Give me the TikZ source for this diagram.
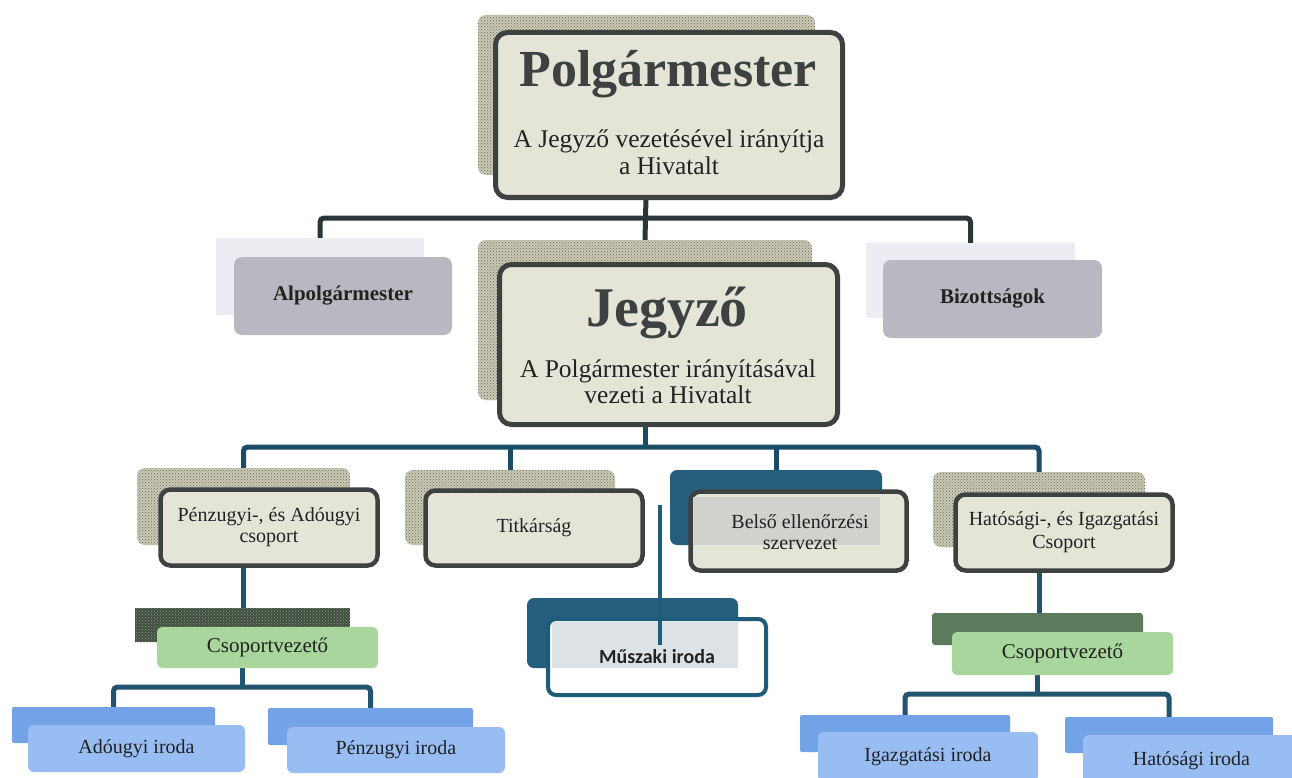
\documentclass[tikz,border=0pt]{standalone}
\usepackage{fontspec}
\setmainfont{Liberation Serif}
\newfontfamily\calfont{Carlito}
\usetikzlibrary{patterns}
\pgfdeclarelayer{back}
\pgfdeclarelayer{bg}
\pgfsetlayers{back,bg,main}
\newcommand\myfs[2]{\fontsize{#1}{#2}\selectfont}
\definecolor{beigec}{HTML}{E4E5D7}
\definecolor{bordc}{HTML}{3D4141}
\definecolor{texbase}{HTML}{CACAB4}
\definecolor{texdot}{HTML}{6A6A5E}
\definecolor{greyc}{HTML}{B8B9C0}
\definecolor{lightsh}{HTML}{ECECF3}
\definecolor{dbluec}{HTML}{265F7D}
\definecolor{musbord}{HTML}{1F5C7A}
\definecolor{musin}{HTML}{DDE2E6}
\definecolor{belin}{HTML}{D0D2CE}
\definecolor{gshA}{HTML}{434E42}
\definecolor{gdot}{HTML}{86A47E}
\definecolor{gshB}{HTML}{5C7B5C}
\definecolor{greenc}{HTML}{A9D69C}
\definecolor{bluesh}{HTML}{74A2E6}
\definecolor{bluec}{HTML}{98BDF3}
\definecolor{txtc}{HTML}{222222}
\definecolor{topc}{HTML}{2B3538}
\definecolor{midc}{HTML}{1A4C68}
\definecolor{lowc}{HTML}{22536F}
\tikzset{
  box/.style={rectangle, inner sep=0pt, text=txtc, align=center},
  texsh/.style={box, rounded corners=8pt, fill=texbase,
     postaction={pattern=crosshatch dots, pattern color=texdot}},
  mainbox/.style={box, draw=bordc, line width=5pt, fill=beigec, rounded corners=12pt},
  smallmain/.style={box, draw=bordc, line width=4.5pt, fill=beigec, rounded corners=10pt},
  greybox/.style={box, fill=greyc, rounded corners=8pt},
  greysh/.style={box, fill=lightsh},
  dblsh/.style={box, fill=dbluec, rounded corners=7pt},
  musbox/.style={box, draw=musbord, line width=4pt, fill=white, rounded corners=8pt},
  gshadeA/.style={box, fill=gshA, postaction={pattern=crosshatch dots, pattern color=gdot}},
  gshadeB/.style={box, fill=gshB, rounded corners=3pt},
  greenbox/.style={box, fill=greenc, rounded corners=5pt},
  bluesh/.style={box, fill=bluesh, rounded corners=2pt},
  bluebox/.style={box, fill=bluec, rounded corners=6pt},
  conn/.style={line width=5pt, rounded corners=4pt},
  sz/.style={font=\myfs{20}{21}},
}
\begin{document}
\begin{tikzpicture}[x=1pt,y=-1pt]
\useasboundingbox (0,0) rectangle (1292,778);
\clip (0,0) rectangle (1292,778);
\begin{pgfonlayer}{back}
\fill[white] (0,0) rectangle (1292,778);
\end{pgfonlayer}
\coordinate (bus1) at (0,218);
\coordinate (bus2) at (0,447);
\coordinate (bus3) at (0,687);
\coordinate (bus4) at (0,694);
% Polgarmester
\node[texsh, minimum width=337pt, minimum height=160pt] (polgS) at (646.5,95) {};
\node[mainbox, minimum width=347pt, minimum height=165pt] (polg) at (669,115) {};
\node[anchor=base, text=bordc, font=\bfseries\myfs{52}{54}] (polgT) at (668,87) {Polgármester};
\node[anchor=base, text=txtc, font=\myfs{25.5}{27}] (polgD1) at (669,148) {A Jegyző vezetésével irányítja};
\node[anchor=base, text=txtc, font=\myfs{25.5}{27}] (polgD2) at (669,175) {a Hivatalt};
% second row
\node[greysh, minimum width=208pt, minimum height=77pt] (alpS) at (320,276.5) {};
\node[greybox, minimum width=218pt, minimum height=78pt, font=\bfseries\myfs{21}{22}] (alp) at (343,296) {Alpolgármester};
\node[greysh, minimum width=209pt, minimum height=75pt] (bizS) at (970.5,280.5) {};
\node[greybox, minimum width=219pt, minimum height=78pt, font=\bfseries\myfs{21}{22}] (biz) at (992.5,299) {Bizottságok};
\node[texsh, minimum width=334pt, minimum height=160pt] (jegS) at (645,320) {};
\node[mainbox, minimum width=338pt, minimum height=160pt] (jeg) at (668.5,344.5) {};
\node[anchor=base, text=bordc, font=\bfseries\myfs{56}{58}] (jegT) at (667,326) {Jegyző};
\node[anchor=base, text=txtc, font=\myfs{25.5}{27}] (jegD1) at (668,377) {A Polgármester irányításával};
\node[anchor=base, text=txtc, font=\myfs{25.5}{27}] (jegD2) at (668,403) {vezeti a Hivatalt};
% third row
\node[texsh, minimum width=213pt, minimum height=77pt] (penzS) at (243.5,506.5) {};
\node[smallmain, sz, minimum width=217pt, minimum height=76pt] (penz) at (269,527.5) {Pénzugyi-, és Adóugyi\\csoport};
\node[texsh, minimum width=210pt, minimum height=75pt] (titS) at (510,507.5) {};
\node[smallmain, sz, minimum width=217pt, minimum height=75pt] (tit) at (534,528) {Titkárság};
\node[dblsh, minimum width=212pt, minimum height=75pt] (belS) at (776,507.5) {};
\node[smallmain, minimum width=216pt, minimum height=79pt] (bel) at (798.5,531) {};
\node[box, fill=belin, minimum width=187pt, minimum height=48pt] (belIn) at (786.5,521) {};
\node[box, sz] (belT) at (800,532) {Belső ellenőrzési\\szervezet};
\node[texsh, minimum width=212pt, minimum height=75pt] (hatS) at (1039,509.5) {};
\node[smallmain, font=\myfs{20}{23}, minimum width=217pt, minimum height=76pt] (hat) at (1064,532.5) {Hatósági-, és Igazgatási\\Csoport};
% Muszaki
\node[dblsh, minimum width=211pt, minimum height=70pt] (musS) at (632.5,633) {};
\node[musbox, minimum width=218pt, minimum height=76pt] (mus) at (657,657) {};
\node[box, fill=musin, minimum width=186pt, minimum height=46pt] (musIn) at (645,645) {};
\coordinate (musTop) at (660,505);
\coordinate (musEnd) at (660,645);
\draw[line width=4pt, musbord] (musTop) -- (musEnd);
\node[box, font=\calfont\bfseries\myfs{20}{22}] (musT) at (657,657) {Műszaki iroda};
% Csoportvezetok
\node[gshadeA, minimum width=215pt, minimum height=34pt] (csv1S) at (242.5,625) {};
\node[greenbox, font=\myfs{21}{22}, minimum width=221pt, minimum height=41pt] (csv1) at (267.5,647.5) {Csoportvezető};
\node[gshadeB, minimum width=211pt, minimum height=32pt] (csv2S) at (1037.5,629) {};
\node[greenbox, font=\myfs{21}{22}, minimum width=221pt, minimum height=43pt] (csv2) at (1062.5,653.5) {Csoportvezető};
% bottom row
\node[bluesh, minimum width=203pt, minimum height=36pt] (adoS) at (113.5,725) {};
\node[bluebox, sz, minimum width=217pt, minimum height=47pt] (ado) at (136.5,748.5) {Adóugyi iroda};
\node[bluesh, minimum width=205pt, minimum height=37pt] (pzS) at (370.5,726.5) {};
\node[bluebox, sz, minimum width=218pt, minimum height=46pt] (pz) at (396,750) {Pénzugyi iroda};
\node[bluesh, minimum width=210pt, minimum height=37pt] (igS) at (905,733.5) {};
\node[bluebox, sz, minimum width=220pt, minimum height=50pt] (ig) at (928,757) {Igazgatási iroda};
\node[bluesh, minimum width=208pt, minimum height=36pt] (hiS) at (1169,735) {};
\node[bluebox, sz, minimum width=217pt, minimum height=52pt] (hi) at (1191.5,761) {Hatósági iroda};
% connectors
\begin{pgfonlayer}{bg}
\draw[conn, topc] (polgS.south) -- (jegS.north);
\draw[conn, topc] (alpS.north) -- (alpS.north |- bus1) -- (bizS.north |- bus1) -- (bizS.north);
\draw[conn, midc] (jegS.south) -- (jegS.south |- bus2);
\draw[conn, midc] (penzS.north) -- (penzS.north |- bus2) -- (hatS.north |- bus2) -- (hatS.north);
\draw[conn, midc] (titS.north) -- (titS.north |- bus2);
\draw[conn, midc] (belS.north) -- (belS.north |- bus2);
\draw[conn, lowc] (penzS.south) -- (penzS.south |- csv1S.north);
\draw[conn, lowc] (hatS.south) -- (hatS.south |- csv2S.north);
\draw[conn, lowc] (csv1S.south) -- (csv1S.south |- bus3);
\draw[conn, lowc] (adoS.north) -- (adoS.north |- bus3) -- (pzS.north |- bus3) -- (pzS.north);
\draw[conn, lowc] (csv2S.south) -- (csv2S.south |- bus4);
\draw[conn, lowc] (igS.north) -- (igS.north |- bus4) -- (hiS.north |- bus4) -- (hiS.north);
\end{pgfonlayer}
\end{tikzpicture}
\end{document}
